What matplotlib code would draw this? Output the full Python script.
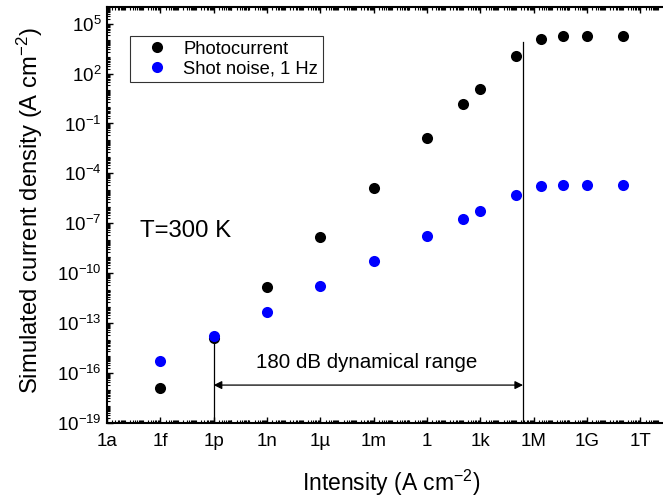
import numpy as np
import matplotlib
matplotlib.use("Agg")
import matplotlib.pyplot as plt
from matplotlib.ticker import FixedLocator, LogLocator, NullFormatter

plt.rcParams["font.family"] = ["Liberation Sans", "DejaVu Sans"]
plt.rcParams["mathtext.fontset"] = "custom"
plt.rcParams["mathtext.rm"] = "Liberation Sans"
plt.rcParams["mathtext.it"] = "Liberation Sans:italic"
plt.rcParams["mathtext.default"] = "regular"

# Simulated data (intensity in A cm^-2, current densities in A cm^-2)
intensity = [1e-15, 1e-12, 1e-9, 1e-6, 1e-3, 1.0, 1e2, 1e3, 1e5, 2.5e6, 4.5e7, 1e9, 1e11]
photocurrent = [1.3e-17, 1.3e-14, 1.45e-11, 1.45e-8, 1.3e-5, 1.3e-2, 1.4, 12.6,
                1.2e3, 1.26e4, 1.7e4, 1.7e4, 1.7e4]
shot_noise = [5.2e-16, 1.7e-14, 5e-13, 1.7e-11, 5.2e-10, 1.7e-8, 1.7e-7, 5.2e-7,
              4.8e-6, 1.66e-5, 1.9e-5, 1.9e-5, 1.9e-5]

# Axis ticks
x_tick_values = [1e-18, 1e-15, 1e-12, 1e-9, 1e-6, 1e-3, 1.0, 1e3, 1e6, 1e9, 1e12]
x_tick_labels = ["1a", "1f", "1p", "1n", "1\u00b5", "1m", "1", "1k", "1M", "1G", "1T"]
y_tick_exponents = [-19, -16, -13, -10, -7, -4, -1, 2, 5]

# Dynamic range bracket
range_start = 1e-12
range_end = 2.5e5
range_start_top = 1.7e-14
range_end_top = 8e3
range_arrow_level = 1.9e-17
range_label = "180 dB dynamical range"

fig = plt.figure(figsize=(6.63, 5.01), dpi=100)
ax = fig.add_axes([107 / 663, 78 / 501, 569 / 663, 416 / 501])

ax.set_xscale("log")
ax.set_yscale("log")
ax.set_xlim(1e-18, 1e14)
ax.set_ylim(1e-19, 1e6)

# Bracket lines and double arrow
ax.plot([range_start, range_start], [1e-19, range_start_top], color="k", lw=0.9, zorder=1)
ax.plot([range_end, range_end], [1e-19, range_end_top], color="k", lw=0.9, zorder=1)
ax.annotate("", xy=(range_start, range_arrow_level), xytext=(range_end, range_arrow_level),
            arrowprops=dict(arrowstyle="<|-|>", color="k", lw=0.9, shrinkA=0, shrinkB=0,
                            mutation_scale=12), zorder=1)
ax.text(10 ** ((np.log10(range_start) + np.log10(range_end)) / 2 - 0.1), 4.6e-16, range_label,
        ha="center", va="center", fontsize=14.8)

ax.text(10 ** -16.14, 10 ** -7.48, "T=300 K", ha="left", va="center", fontsize=17.3)

ax.plot(intensity, photocurrent, "o", color="black", ms=8, mew=0, label="Photocurrent", zorder=3)
ax.plot(intensity, shot_noise, "o", color="blue", ms=8, mew=0, label="Shot noise, 1 Hz", zorder=4)

leg = ax.legend(loc="upper left", bbox_to_anchor=(23 / 569, 0.930), borderaxespad=0,
                fontsize=13.2, frameon=True, fancybox=False, handlelength=2.45,
                handletextpad=0.2, borderpad=0.25, labelspacing=0.15)
leg.get_frame().set_edgecolor("black")
leg.get_frame().set_linewidth(0.8)

ax.xaxis.set_major_locator(FixedLocator(x_tick_values))
ax.set_xticklabels(x_tick_labels)
ax.xaxis.set_minor_locator(LogLocator(base=10, subs=np.arange(1, 10), numticks=200))
ax.xaxis.set_minor_formatter(NullFormatter())

ax.yaxis.set_major_locator(FixedLocator([10.0 ** e for e in y_tick_exponents]))
ax.set_yticklabels([f"10$^{{{e}}}$" for e in y_tick_exponents])
ax.yaxis.set_minor_locator(LogLocator(base=10, subs=np.arange(1, 10), numticks=200))
ax.yaxis.set_minor_formatter(NullFormatter())

ax.tick_params(which="both", direction="in", top=True, right=False, labelsize=13.5)
ax.tick_params(which="major", length=4.5, width=1.0)
ax.tick_params(which="minor", length=2.2, width=0.8)
ax.tick_params(axis="x", pad=7)
ax.tick_params(axis="y", pad=4)

for side in ["left", "bottom", "top"]:
    ax.spines[side].set_linewidth(1.5)
ax.spines["right"].set_visible(False)

ax.set_xlabel("Intensity (A cm$^{-2}$)", fontsize=16.5, labelpad=13)
ax.set_ylabel("Simulated current density (A cm$^{-2}$)", fontsize=17.2, labelpad=9)
ax.yaxis.set_label_coords(-0.109, 0.51)

fig.savefig("out.png", dpi=100)
